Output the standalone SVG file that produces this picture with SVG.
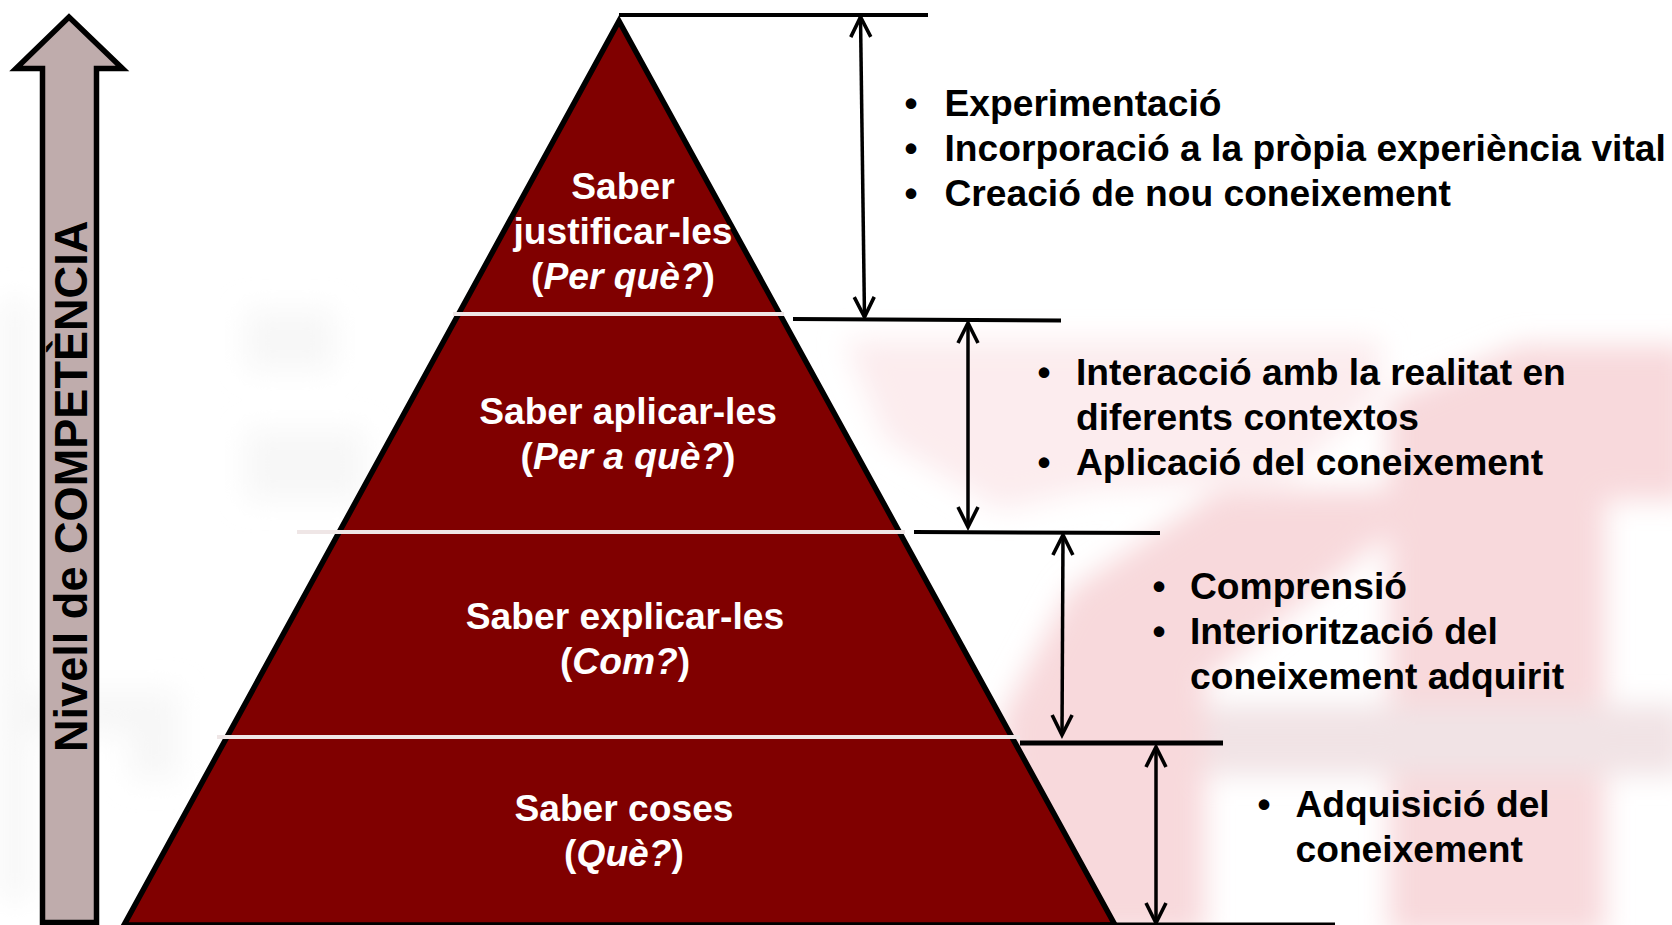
<svg xmlns="http://www.w3.org/2000/svg" width="1672" height="925" viewBox="0 0 1672 925">
<style>
text{font-family:"Liberation Sans",Arial,sans-serif;font-weight:bold;font-size:37.2px}
.w{fill:#fff;text-anchor:middle}
.k{fill:#000}
.b{fill:#000;text-anchor:middle}
.i{font-style:italic}
.sep{stroke:#efe6e6;stroke-width:4;fill:none}
.tick{stroke:#000;fill:none}
.dim{stroke:#000;stroke-width:3.5;fill:none;marker-start:url(#head);marker-end:url(#head)}
</style>
<defs>
<filter id="blur" x="-20%" y="-20%" width="140%" height="140%"><feGaussianBlur stdDeviation="14"/></filter>
<marker id="head" markerUnits="userSpaceOnUse" markerWidth="26" markerHeight="26" refX="22" refY="13" orient="auto-start-reverse" viewBox="0 0 26 26"><path d="M2 3 L22 13 L2 23" fill="none" stroke="#000" stroke-width="3.6"/></marker>
</defs>
<rect width="1672" height="925" fill="#fff"/>
<g id="background" filter="url(#blur)">
<g fill="#f7f7f7"><rect x="0" y="300" width="30" height="600"/><rect x="0" y="690" width="180" height="45"/><rect x="130" y="690" width="50" height="90"/><rect x="245" y="310" width="90" height="60"/><rect x="245" y="430" width="120" height="70"/></g>
<path fill="#fcecee" d="M845 340H1380V395L1285 480 1090 490 1000 510 885 440Z"/>
<path fill="#f8d9dc" d="M1030 935H1205V680L1400 525V490H1220L1070 590 1000 720Z"/>
<path fill="#f8d9dc" d="M1389 935H1605V500H1690V345H1520L1389 400Z"/>
<rect x="1205" y="705" width="480" height="70" fill="#f1e3e5"/>
</g>
<g id="competence-arrow">
<path d="M42.500 922.500V68.500H16L69 17 122.500 68.500H96.500V922.500Z" fill="#bfacac" stroke="#000" stroke-width="5.5"/>
<text class="k" transform="translate(87,752) rotate(-90) scale(.96,1)" style="font-size:47px">Nivell de COMPETÈNCIA</text>
</g>
<g id="pyramid">
<path d="M619 21L1115 925H124Z" fill="#800000" stroke="#000" stroke-width="5.5"/>
<path class="sep" d="M453 314H784M297 532H905M217 737H1020"/>
</g>
<g id="level-justify"><text class="w" x="623" y="199">Saber</text><text class="w" x="623" y="244">justificar-les</text><text class="w" x="623" y="289">(<tspan class="i">Per què?</tspan>)</text></g>
<g id="level-apply"><text class="w" x="628" y="424">Saber aplicar-les</text><text class="w" x="628" y="469">(<tspan class="i">Per a què?</tspan>)</text></g>
<g id="level-explain"><text class="w" x="625" y="629">Saber explicar-les</text><text class="w" x="625" y="674">(<tspan class="i">Com?</tspan>)</text></g>
<g id="level-things"><text class="w" x="624" y="821">Saber coses</text><text class="w" x="624" y="866">(<tspan class="i">Què?</tspan>)</text></g>
<g id="connectors">
<path class="tick" stroke-width="4" d="M619 15H928"/>
<path class="tick" stroke-width="4" d="M793 319L1061 320.500"/>
<path class="tick" stroke-width="4" d="M914 532L1160 533"/>
<path class="tick" stroke-width="5" d="M1020 743H1223"/>
<path class="tick" stroke-width="3" d="M1100 924H1335"/>
<path class="dim" d="M860.500 17L864.500 317"/>
<path class="dim" d="M968 323V527"/>
<path class="dim" d="M1063 535L1062 735"/>
<path class="dim" d="M1156 747V923"/>
</g>
<g id="list-1"><text class="b" x="911" y="116">•</text><text class="k" x="944.500" y="116">Experimentació</text><text class="b" x="911" y="161">•</text><text class="k" x="944.500" y="161">Incorporació a la pròpia experiència vital</text><text class="b" x="911" y="206">•</text><text class="k" x="944.500" y="206">Creació de nou coneixement</text></g>
<g id="list-2"><text class="b" x="1044" y="385">•</text><text class="k" x="1076" y="385">Interacció amb la realitat en</text><text class="k" x="1076" y="430">diferents contextos</text><text class="b" x="1044" y="475">•</text><text class="k" x="1076" y="475">Aplicació del coneixement</text></g>
<g id="list-3"><text class="b" x="1159" y="599">•</text><text class="k" x="1190" y="599">Comprensió</text><text class="b" x="1159" y="644">•</text><text class="k" x="1190" y="644">Interiorització del</text><text class="k" x="1190" y="689">coneixement adquirit</text></g>
<g id="list-4"><text class="b" x="1264" y="817">•</text><text class="k" x="1295.500" y="817">Adquisició del</text><text class="k" x="1295.500" y="862">coneixement</text></g>
</svg>
